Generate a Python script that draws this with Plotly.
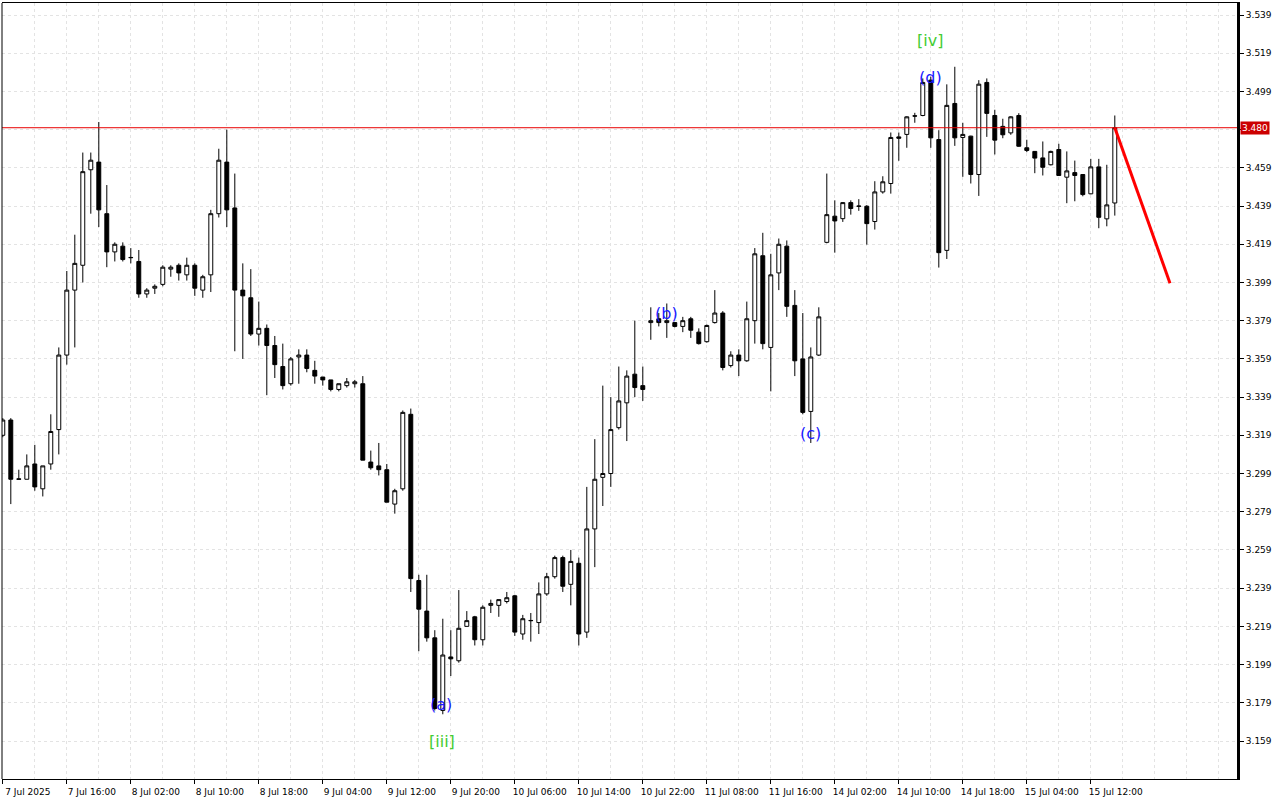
import plotly.graph_objects as go

# ---- data (H1 bars, index = bar number) ----
bar_open = [3.319,3.327,3.2962,3.296,3.304,3.291,3.304,3.322,3.361,3.395,
            3.408,3.458,3.462,3.435,3.415,3.418,3.4121,3.410,3.393,3.396,
            3.398,3.406,3.408,3.403,3.408,3.395,3.403,3.435,3.462,3.438,
            3.395,3.391,3.372,3.375,3.366,3.355,3.346,3.360,3.361,3.353,
            3.3495,3.348,3.343,3.345,3.346,3.346,3.305,3.303,3.301,3.283,
            3.291,3.330,3.243,3.227,3.213,3.175,3.203,3.201,3.219,3.224,
            3.212,3.230,3.230,3.232,3.235,3.215,3.2221,3.221,3.236,3.245,
            3.255,3.241,3.252,3.216,3.270,3.297,3.299,3.323,3.336,3.351,
            3.345,3.378,3.380,3.378,3.378,3.376,3.380,3.373,3.368,3.378,
            3.383,3.3555,3.361,3.358,3.379,3.413,3.365,3.404,3.418,3.387,
            3.359,3.3315,3.361,3.420,3.4337,3.4324,3.4408,3.4390,3.4389,3.4309,
            3.4464,3.4508,3.4752,3.4765,3.4862,3.4864,3.5049,3.4738,3.4158,3.4927,
            3.4749,3.4756,3.4555,3.5037,3.4864,3.4807,3.4773,3.4864,3.4695,3.4676,
            3.4642,3.4606,3.4686,3.4541,3.4565,3.4555,3.4454,3.4595,3.4323,3.4406]
bar_high = [3.328,3.328,3.301,3.309,3.314,3.303,3.330,3.365,3.405,3.424,
            3.467,3.467,3.483,3.450,3.420,3.420,3.417,3.416,3.396,3.398,
            3.408,3.408,3.409,3.412,3.409,3.403,3.437,3.469,3.479,3.456,
            3.409,3.406,3.389,3.377,3.371,3.367,3.360,3.364,3.364,3.358,
            3.3495,3.348,3.346,3.349,3.348,3.350,3.311,3.315,3.304,3.291,
            3.332,3.333,3.246,3.246,3.217,3.223,3.217,3.238,3.227,3.2245,
            3.230,3.233,3.233,3.237,3.2355,3.225,3.226,3.242,3.247,3.256,
            3.256,3.259,3.255,3.292,3.317,3.345,3.339,3.355,3.353,3.379,
            3.355,3.386,3.383,3.388,3.378,3.381,3.381,3.375,3.377,3.395,
            3.384,3.363,3.364,3.389,3.417,3.425,3.414,3.422,3.421,3.395,
            3.383,3.365,3.386,3.456,3.442,3.441,3.442,3.4426,3.4395,3.452,
            3.4546,3.4775,3.4775,3.486,3.4878,3.5058,3.5067,3.4787,3.5027,3.5119,
            3.4826,3.4758,3.5049,3.5058,3.4894,3.4847,3.486,3.4876,3.4737,3.4678,
            3.4728,3.468,3.4716,3.4676,3.4628,3.4557,3.4637,3.4637,3.4606,3.4864]
bar_low = [3.318,3.283,3.296,3.296,3.290,3.287,3.301,3.309,3.356,3.365,
           3.399,3.435,3.428,3.407,3.410,3.410,3.409,3.391,3.391,3.393,
           3.397,3.402,3.400,3.400,3.392,3.391,3.394,3.433,3.428,3.363,
           3.359,3.371,3.366,3.340,3.349,3.343,3.345,3.346,3.352,3.346,
           3.345,3.342,3.342,3.344,3.344,3.306,3.301,3.298,3.284,3.278,
           3.290,3.237,3.206,3.211,3.175,3.173,3.193,3.200,3.219,3.209,
           3.209,3.226,3.224,3.231,3.214,3.212,3.211,3.215,3.235,3.244,
           3.237,3.230,3.209,3.213,3.250,3.282,3.292,3.322,3.316,3.339,
           3.337,3.369,3.376,3.370,3.3755,3.373,3.370,3.3665,3.3675,3.3775,
           3.353,3.3545,3.350,3.3575,3.367,3.364,3.342,3.395,3.381,3.350,
           3.330,3.315,3.3605,3.4195,3.4146,3.4307,3.4345,3.4365,3.4188,3.4267,
           3.4455,3.4455,3.4627,3.4695,3.4826,3.486,3.4695,3.4068,3.4113,3.4705,
           3.4543,3.4508,3.4443,3.4752,3.466,3.4745,3.4763,3.470,3.4672,3.4562,
           3.455,3.4603,3.4548,3.4405,3.4415,3.4441,3.4452,3.4274,3.4284,3.434]
bar_close = [3.327,3.296,3.296,3.303,3.292,3.303,3.321,3.361,3.395,3.409,
             3.457,3.463,3.437,3.415,3.419,3.411,3.412,3.393,3.395,3.397,
             3.407,3.407,3.404,3.408,3.396,3.402,3.435,3.463,3.437,3.395,
             3.392,3.372,3.375,3.366,3.356,3.345,3.359,3.361,3.354,3.350,
             3.348,3.343,3.346,3.347,3.347,3.306,3.302,3.301,3.284,3.290,
             3.331,3.244,3.228,3.213,3.176,3.204,3.202,3.218,3.222,3.212,
             3.229,3.231,3.233,3.234,3.216,3.223,3.222,3.236,3.245,3.255,
             3.240,3.253,3.215,3.270,3.296,3.299,3.322,3.337,3.350,3.344,
             3.343,3.379,3.378,3.379,3.376,3.379,3.374,3.367,3.3765,3.383,
             3.3545,3.361,3.358,3.380,3.414,3.367,3.403,3.419,3.3865,3.358,
             3.331,3.360,3.381,3.4345,3.4312,3.4408,3.4377,3.4389,3.4298,3.4464,
             3.4517,3.4749,3.4745,3.4857,3.4861,3.5037,3.4747,3.4146,3.4917,3.4747,
             3.4765,3.4555,3.5028,3.4875,3.4735,3.4763,3.4857,3.4703,3.4681,3.4641,
             3.4593,3.4676,3.455,3.4574,3.455,3.445,3.4595,3.4331,3.4396,3.480]
bar_index = list(range(len(bar_open)))

x_tick_pos = list(range(0, 137, 8))
x_tick_labels = ["7 Jul 2025", "7 Jul 16:00", "8 Jul 02:00", "8 Jul 10:00", "8 Jul 18:00",
                 "9 Jul 04:00", "9 Jul 12:00", "9 Jul 20:00", "10 Jul 06:00", "10 Jul 14:00",
                 "10 Jul 22:00", "11 Jul 08:00", "11 Jul 16:00", "14 Jul 02:00", "14 Jul 10:00",
                 "14 Jul 18:00", "15 Jul 04:00", "15 Jul 12:00"]
x_minor_pos = list(range(4, 156, 4))
y_tick_vals = [3.159, 3.179, 3.199, 3.219, 3.239, 3.259, 3.279, 3.299, 3.319, 3.339,
               3.359, 3.379, 3.399, 3.419, 3.439, 3.459, 3.479, 3.499, 3.519, 3.539]
# the 3.479 label is hidden behind the current-price box in the reference
y_tick_labels = ["3.159", "3.179", "3.199", "3.219", "3.239", "3.259", "3.279", "3.299", "3.319", "3.339",
                 "3.359", "3.379", "3.399", "3.419", "3.439", "3.459", "", "3.499", "3.519", "3.539"]

current_price = 3.480
forecast_x = [139, 145.9]
forecast_y = [3.480, 3.3986]

wave_labels = ["(a)", "[iii]", "(b)", "(c)", "(d)", "[iv]"]
wave_x = [54.8, 54.9, 82.9, 100.9, 115.9, 115.9]
wave_y = [3.1779, 3.1585, 3.383, 3.3197, 3.5065, 3.5259]
wave_colors = ["#1a1aff", "#44cc33", "#1a1aff", "#1a1aff", "#1a1aff", "#44cc33"]

# ---- figure ----
fig = go.Figure()
fig.add_trace(go.Candlestick(
    x=bar_index, open=bar_open, high=bar_high, low=bar_low, close=bar_close,
    increasing=dict(line=dict(color="black", width=1), fillcolor="white"),
    decreasing=dict(line=dict(color="black", width=1), fillcolor="black"),
    whiskerwidth=0, showlegend=False, hoverinfo="skip"))

fig.add_trace(go.Scatter(x=forecast_x, y=forecast_y, mode="lines",
                         line=dict(color="#ff0000", width=3), showlegend=False, hoverinfo="skip"))

fig.add_hline(y=current_price, line=dict(color="#e80000", width=1), layer="above")

for t, xv, yv, c in zip(wave_labels, wave_x, wave_y, wave_colors):
    fig.add_annotation(x=xv, y=yv, text=t, showarrow=False,
                       font=dict(family="DejaVu Sans", size=16, color=c),
                       xanchor="center", yanchor="middle")

fig.add_annotation(x=1, xref="paper", y=current_price, yref="y", text="%.3f" % current_price,
                   showarrow=False, xanchor="left", yanchor="middle", xshift=3,
                   bgcolor="#cc0000", borderpad=1,
                   font=dict(family="DejaVu Sans", size=9, color="white"))

fig.add_shape(type="line", xref="paper", yref="paper", x0=0, x1=0, y0=0, y1=1,
              line=dict(color="black", width=1))

grid_color = "#e3e3e3"
fig.update_layout(
    width=1280, height=800,
    margin=dict(l=2, r=43, t=3, b=21, autoexpand=False),
    paper_bgcolor="white", plot_bgcolor="white",
    showlegend=False,
    font=dict(family="DejaVu Sans", size=9, color="black"),
    xaxis=dict(
        range=[-0.1, 154.275], rangeslider=dict(visible=False),
        tickmode="array", tickvals=x_tick_pos, ticktext=x_tick_labels,
        ticks="outside", ticklen=4, tickcolor="black", ticklabelshift=25,
        showgrid=True, gridcolor=grid_color, griddash="3px,3px", gridwidth=1,
        minor=dict(tickmode="array", tickvals=x_minor_pos, showgrid=True,
                   gridcolor=grid_color, griddash="3px,3px", ticks=""),
        showline=True, linecolor="black", linewidth=1, mirror=True,
        zeroline=False, automargin=False, tickfont=dict(family="DejaVu Sans", size=9)),
    yaxis=dict(
        side="right", range=[3.13911, 3.54528],
        tickmode="array", tickvals=y_tick_vals, ticktext=y_tick_labels,
        ticks="outside", ticklen=4, tickcolor="black",
        showgrid=True, gridcolor=grid_color, griddash="3px,3px", gridwidth=1,
        showline=True, linecolor="black", linewidth=3,
        zeroline=False, automargin=False, tickfont=dict(family="DejaVu Sans", size=9)),
)

fig.write_html("out.html", config={"displayModeBar": False},
               post_script="document.body.style.margin='0';document.body.style.overflow='hidden';")
